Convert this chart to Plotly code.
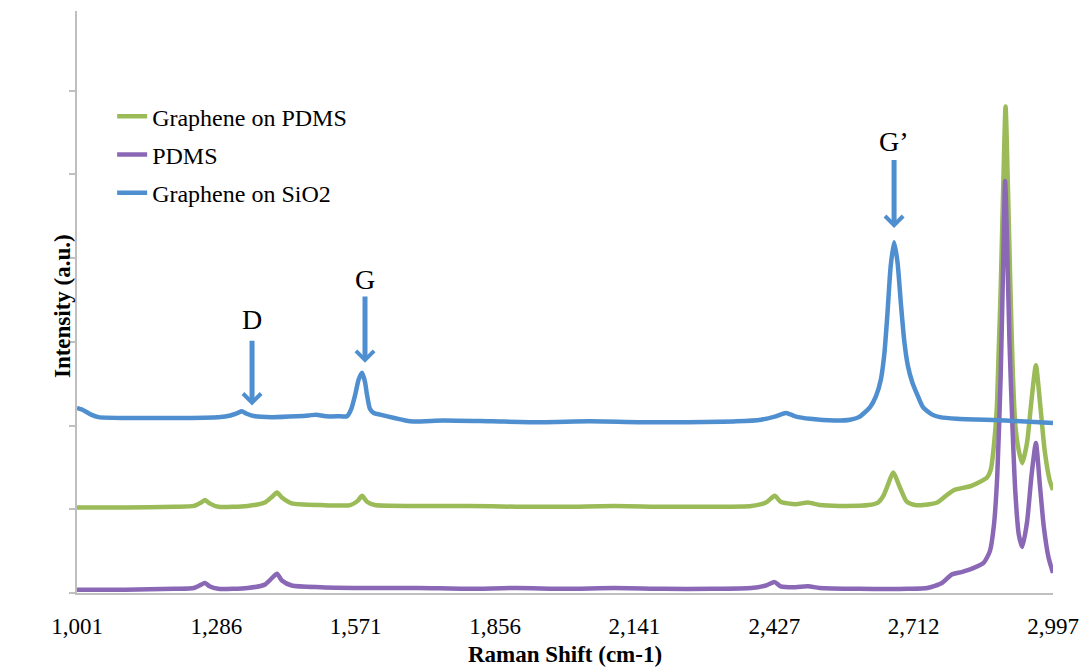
import plotly.graph_objects as go

# ---- data (intensity in axis-tick units) ----
x_blue = [1001, 1015, 1030, 1045, 1100, 1200, 1290, 1315, 1330, 1338,
          1348, 1365, 1400, 1450, 1475, 1490, 1510, 1540, 1553, 1562,
          1570, 1577, 1584, 1590, 1594, 1600, 1608, 1621, 1650, 1682,
          1750, 1850, 1950, 2050, 2150, 2250, 2350, 2400, 2430, 2451,
          2470, 2500, 2550, 2582, 2600, 2623, 2635, 2645, 2652, 2658,
          2665, 2672, 2679, 2686, 2693, 2700, 2709, 2720, 2731, 2750,
          2766, 2800, 2900, 2997]
y_blue = [2.21, 2.18, 2.13, 2.10, 2.09, 2.09, 2.10, 2.12, 2.15, 2.17,
          2.14, 2.11, 2.10, 2.11, 2.12, 2.13, 2.11, 2.11, 2.11, 2.20,
          2.37, 2.55, 2.63, 2.52, 2.37, 2.20, 2.15, 2.13, 2.09, 2.05,
          2.06, 2.05, 2.04, 2.05, 2.04, 2.04, 2.05, 2.07, 2.11, 2.15,
          2.11, 2.08, 2.06, 2.07, 2.10, 2.22, 2.35, 2.55, 2.85, 3.30,
          3.90, 4.19, 3.95, 3.45, 3.00, 2.72, 2.52, 2.36, 2.22, 2.13,
          2.10, 2.08, 2.06, 2.03]

x_green = [1001, 1100, 1200, 1240, 1255, 1263, 1272, 1290, 1350, 1385,
           1400, 1410, 1420, 1440, 1500, 1560, 1575, 1584, 1594, 1610,
           1700, 1800, 1900, 2000, 2100, 2200, 2300, 2380, 2410, 2428,
           2440, 2470, 2496, 2520, 2560, 2620, 2639, 2650, 2660, 2670,
           2684, 2698, 2715, 2731, 2760, 2780, 2795, 2830, 2862, 2870,
           2876, 2882, 2886, 2890, 2895, 2900, 2905, 2910, 2915, 2920,
           2927, 2934, 2944, 2953, 2962, 2970, 2980, 2990, 2997]
y_green = [1.02, 1.02, 1.03, 1.04, 1.08, 1.11, 1.07, 1.03, 1.04, 1.08,
           1.15, 1.20, 1.14, 1.07, 1.05, 1.05, 1.10, 1.16, 1.09, 1.05,
           1.04, 1.04, 1.03, 1.03, 1.04, 1.03, 1.03, 1.04, 1.08, 1.16,
           1.09, 1.06, 1.08, 1.05, 1.04, 1.05, 1.08, 1.16, 1.30, 1.44,
           1.26, 1.09, 1.05, 1.05, 1.08, 1.17, 1.23, 1.28, 1.38, 1.48,
           1.75, 2.20, 2.90, 3.62, 4.80, 5.81, 4.80, 3.62, 2.60, 2.00,
           1.70, 1.55, 1.80, 2.30, 2.72, 2.30, 1.70, 1.35, 1.23]

x_purple = [1001, 1100, 1200, 1240, 1255, 1263, 1272, 1290, 1350, 1385,
            1400, 1410, 1420, 1440, 1500, 1600, 1700, 1800, 1900, 2000,
            2100, 2200, 2300, 2380, 2410, 2428, 2440, 2470, 2496, 2520,
            2600, 2700, 2740, 2770, 2790, 2810, 2835, 2855, 2868, 2876,
            2883, 2890, 2895, 2899, 2903, 2908, 2914, 2920, 2927, 2934,
            2944, 2953, 2962, 2970, 2978, 2988, 2997]
y_purple = [0.04, 0.04, 0.05, 0.06, 0.10, 0.12, 0.08, 0.05, 0.06, 0.10,
            0.18, 0.23, 0.15, 0.09, 0.07, 0.06, 0.06, 0.05, 0.06, 0.05,
            0.06, 0.05, 0.05, 0.06, 0.09, 0.13, 0.08, 0.07, 0.08, 0.06,
            0.05, 0.05, 0.06, 0.12, 0.22, 0.25, 0.30, 0.36, 0.50, 0.80,
            1.40, 2.60, 3.90, 4.92, 4.20, 3.00, 2.00, 1.20, 0.70, 0.55,
            0.85, 1.40, 1.79, 1.30, 0.80, 0.42, 0.24]

series_names = ["Graphene on PDMS", "PDMS", "Graphene on SiO2"]
series_colors = ["#9bbb59", "#8a68b6", "#4f8fd0"]

x_tick_vals = [1001, 1286, 1571, 1856, 2141, 2427, 2712, 2997]
x_tick_text = ["1,001", "1,286", "1,571", "1,856", "2,141", "2,427", "2,712", "2,997"]

peak_labels = ["D", "G", "G\u2019"]
peak_x = [1359, 1590, 2672]
arrow_top = [3.03, 3.56, 5.19]
arrow_tip = [2.24, 2.75, 4.36]
label_y = [3.27, 3.74, 5.39]

for a, b in [(x_blue, y_blue), (x_green, y_green), (x_purple, y_purple)]:
    assert len(a) == len(b)

fig = go.Figure()
data = [(x_green, y_green), (x_purple, y_purple), (x_blue, y_blue)]
for i, ((xs, ys), name, col) in enumerate(zip(data, series_names, series_colors)):
    fig.add_trace(go.Scatter(
        x=xs, y=ys, mode="lines", name=name, legendgroup=f"g{i}",
        line=dict(color=col, width=4.5, shape="spline", smoothing=0.6),
    ))

arrow_color = "#4f8fd0"
for lab, px_, top, tip, ly in zip(peak_labels, peak_x, arrow_top, arrow_tip, label_y):
    fig.add_annotation(x=px_, y=tip, ax=px_, ay=top, xref="x", yref="y",
                       axref="x", ayref="y", text="", showarrow=True,
                       arrowhead=4, arrowsize=0.7, arrowwidth=5,
                       arrowcolor=arrow_color)
    fig.add_annotation(x=px_, y=ly, xref="x", yref="y", text=lab,
                       showarrow=False,
                       font=dict(family="Liberation Serif", size=28, color="black"))

# y-axis title placed as rotated text left of the axis
fig.add_annotation(x=-0.0154, y=0.493, xref="paper", yref="paper",
                   text="Intensity (a.u.)", textangle=-90, showarrow=False,
                   xanchor="center", yanchor="middle",
                   font=dict(family="Liberation Serif", size=23, weight="bold",
                             color="black"))

axis_grey = "#bfbfbf"
# the page body adds an 8px offset, so the figure is 8px smaller on each axis
fig.update_layout(
    width=1084, height=659,
    margin=dict(l=69, r=39, t=3, b=74),
    plot_bgcolor="white", paper_bgcolor="white",
    font=dict(family="Liberation Serif", color="black"),
    legend=dict(x=0.036, y=0.857, xanchor="left", yanchor="top",
                font=dict(size=24, family="Liberation Serif"),
                bgcolor="rgba(0,0,0,0)", tracegroupgap=4, itemwidth=30,
                traceorder="grouped"),
    xaxis=dict(range=[1001, 2997], tickvals=x_tick_vals, ticktext=x_tick_text,
               showline=True, linecolor=axis_grey, linewidth=1.5,
               ticks="", showgrid=False, zeroline=False, automargin=False,
               tickfont=dict(size=23), ticklabelstandoff=12,
               title=dict(text="Raman Shift (cm-1)", standoff=10,
                          font=dict(size=23, weight="bold"))),
    yaxis=dict(range=[0, 6.95], tick0=0, dtick=1, ticks="outside", ticklen=6,
               tickcolor=axis_grey, tickwidth=1.5, showticklabels=False,
               showline=True, linecolor=axis_grey, linewidth=1.5,
               showgrid=False, zeroline=False, automargin=False),
)

fig.write_html("out.html")
